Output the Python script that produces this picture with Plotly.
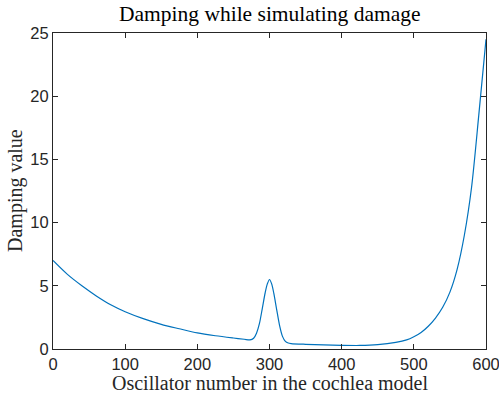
import plotly.graph_objects as go

# Oscillator index (x) and damping value (y)
oscillator = [0, 20, 40, 60, 80, 100, 125, 150, 175, 200, 225, 250, 265, 273,
              278, 282, 286, 290, 294, 297, 300, 303, 306, 310, 314, 318, 322,
              326, 330, 350, 375, 400, 425, 450, 475, 490, 500, 510, 520, 530,
              540, 550, 560, 570, 580, 590, 600]
damping = [7.0, 5.9, 5.0, 4.2, 3.5, 2.95, 2.4, 1.95, 1.6, 1.27, 1.05, 0.87, 0.77, 0.72,
           0.85, 1.25, 2.0, 3.2, 4.45, 5.15, 5.5, 5.15, 4.4, 3.1, 1.85, 1.0, 0.6,
           0.47, 0.43, 0.37, 0.32, 0.29, 0.28, 0.34, 0.52, 0.72, 0.97, 1.3, 1.8, 2.45,
           3.3, 4.5, 6.3, 9.0, 12.8, 18.5, 24.5]

x_ticks = [0, 100, 200, 300, 400, 500, 600]
y_ticks = [0, 5, 10, 15, 20, 25]

title_text = "Damping while simulating damage"
x_label = "Oscillator number in the cochlea model"
y_label = "Damping value"

axis_color = "#262626"
serif = "Liberation Serif, DejaVu Serif, serif"
sans = "Liberation Sans, Arial, sans-serif"

fig = go.Figure()
fig.add_trace(go.Scatter(
    x=oscillator, y=damping, mode="lines",
    line=dict(color="#0072BD", width=1.2, shape="spline", smoothing=0.8),
    showlegend=False, hoverinfo="skip",
))

common_axis = dict(
    showline=True, linecolor=axis_color, linewidth=1, mirror="ticks",
    ticks="inside", ticklen=5, tickcolor=axis_color, tickwidth=1,
    showgrid=False, zeroline=False, automargin=False,
    ticklabeloverflow="allow",
    tickfont=dict(family=sans, size=16.5, color=axis_color),
)

fig.update_xaxes(range=[0, 600], tickvals=x_ticks, **common_axis)
fig.update_yaxes(range=[0, 25], tickvals=y_ticks, **common_axis)

fig.update_layout(
    width=499, height=394,
    margin=dict(l=53, r=13, t=33, b=45, autoexpand=False),
    paper_bgcolor="white", plot_bgcolor="white",
)

fig.add_annotation(text=title_text, xref="paper", yref="paper", x=0.5, y=1,
                   yshift=19, showarrow=False, xanchor="center", yanchor="middle",
                   font=dict(family=serif, size=21.5, color="black"))
fig.add_annotation(text=x_label, xref="paper", yref="paper", x=0.5, y=0,
                   yshift=-34, showarrow=False, xanchor="center", yanchor="middle",
                   font=dict(family=serif, size=20, color=axis_color))
fig.add_annotation(text=y_label, xref="paper", yref="paper", x=0, y=0.5,
                   xshift=-38, showarrow=False, xanchor="center", yanchor="middle",
                   textangle=-90, font=dict(family=serif, size=20, color=axis_color))

fig.write_html("out.html")
